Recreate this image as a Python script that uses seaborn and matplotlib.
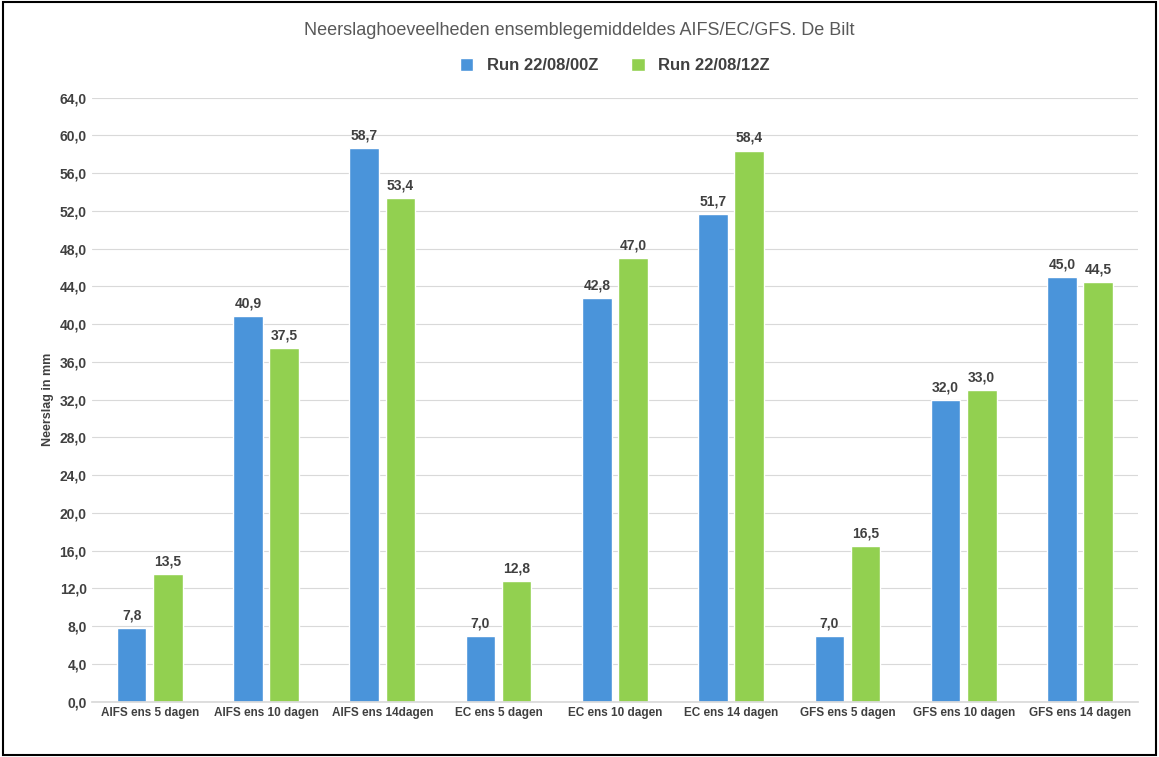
import pandas as pd
import seaborn as sns
import matplotlib
matplotlib.use("Agg")
import matplotlib.pyplot as plt
from matplotlib.patches import Rectangle

# Data
categories = ["AIFS ens 5 dagen", "AIFS ens 10 dagen", "AIFS ens 14dagen",
              "EC ens 5 dagen", "EC ens 10 dagen", "EC ens 14 dagen",
              "GFS ens 5 dagen", "GFS ens 10 dagen", "GFS ens 14 dagen"]
run_00z = [7.8, 40.9, 58.7, 7.0, 42.8, 51.7, 7.0, 32.0, 45.0]
run_12z = [13.5, 37.5, 53.4, 12.8, 47.0, 58.4, 16.5, 33.0, 44.5]
series = ["Run 22/08/00Z", "Run 22/08/12Z"]
yticks = [i * 4.0 for i in range(17)]

df = pd.DataFrame({
    "cat": categories * 2,
    "val": run_00z + run_12z,
    "run": [series[0]] * len(categories) + [series[1]] * len(categories),
})

sns.set_theme(style="white")
plt.rcParams["font.family"] = ["Liberation Sans", "DejaVu Sans"]

fig = plt.figure(figsize=(11.59, 7.57), dpi=100)
ax = fig.add_axes([0.079, 0.073, 0.903, 0.798])

sns.barplot(data=df, x="cat", y="val", hue="run",
            palette=["#4A94DA", "#92D050"], width=0.62, gap=0.18,
            saturation=1, ax=ax)

ax.set_ylim(0, 64)
ax.set_yticks(yticks)
ax.set_yticklabels([f"{v:.1f}".replace(".", ",") for v in yticks],
                   fontsize=10, fontweight="bold", color="#404040")
ax.tick_params(axis="x", labelsize=8.5, colors="#404040", length=0)
for lbl in ax.get_xticklabels():
    lbl.set_fontweight("bold")
ax.tick_params(axis="y", length=0)
ax.set_xlabel("")
ax.set_ylabel("Neerslag in mm", fontsize=9, fontweight="bold", color="#404040")
ax.yaxis.grid(True, color="#D9D9D9", linewidth=0.8)
ax.set_axisbelow(True)
for s in ["top", "right", "left"]:
    ax.spines[s].set_visible(False)
ax.spines["bottom"].set_color("#D9D9D9")

for cont in ax.containers:
    ax.bar_label(cont, labels=[f"{v:.1f}".replace(".", ",") for v in cont.datavalues],
                 padding=4, fontsize=10, fontweight="bold", color="#404040")

ax.legend(loc="upper center", bbox_to_anchor=(0.5, 1.09), ncol=2, frameon=False,
          prop={"size": 12, "weight": "bold"}, handlelength=0.8, handleheight=0.8,
          columnspacing=2.0, labelcolor="#404040")

fig.text(0.5, 0.96, "Neerslaghoeveelheden ensemblegemiddeldes AIFS/EC/GFS. De Bilt",
         ha="center", va="center", fontsize=13, color="#595959")
fig.patches.append(Rectangle((0.003, 0.003), 0.994, 0.994, transform=fig.transFigure,
                             fill=False, edgecolor="black", linewidth=1.5))

fig.savefig("out.png", dpi=100)
